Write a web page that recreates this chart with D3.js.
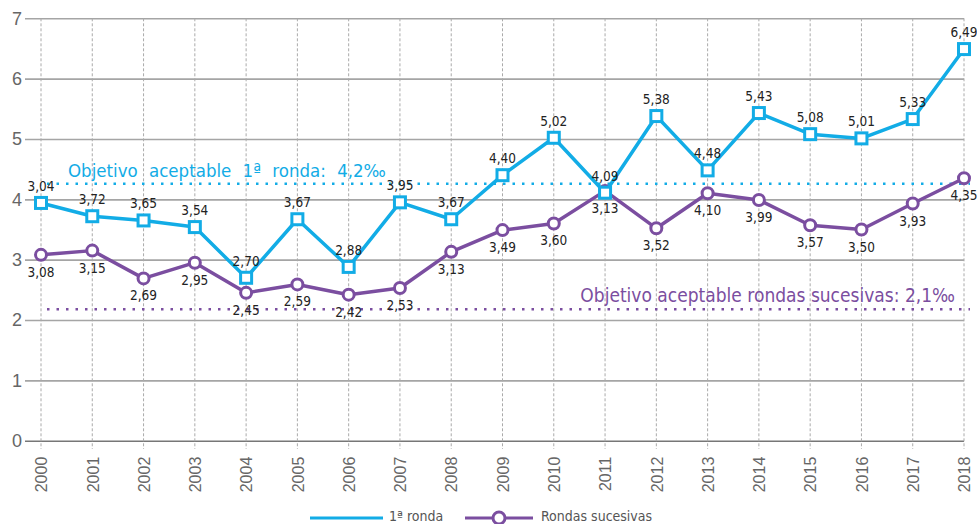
<!DOCTYPE html>
<html>
<head>
<meta charset="utf-8">
<script src="https://cdn.jsdelivr.net/npm/d3@7"></script>
<style>
  body { margin: 0; background: #fff; }
  svg { display: block; font-family: "DejaVu Sans Condensed", "DejaVu Sans", sans-serif; }
  .y.axis text { fill: #666; font-size: 18px; }
  .x.axis text { fill: #666; font-size: 16px; }
</style>
</head>
<body>
<div id="chart"></div>
<script>
const years = ["2000","2001","2002","2003","2004","2005","2006","2007","2008","2009",
               "2010","2011","2012","2013","2014","2015","2016","2017","2018"];
const primeraRonda = [3.94, 3.72, 3.65, 3.54, 2.70, 3.67, 2.88, 3.95, 3.67, 4.40,
                      5.02, 4.11, 5.38, 4.48, 5.43, 5.08, 5.01, 5.33, 6.49];
const primeraLabels = ["3,04","3,72","3,65","3,54","2,70","3,67","2,88","3,95","3,67","4,40",
                       "5,02","4,09","5,38","4,48","5,43","5,08","5,01","5,33","6,49"];
const sucesivas = [3.08, 3.15, 2.69, 2.95, 2.45, 2.59, 2.42, 2.53, 3.13, 3.49,
                   3.60, 4.14, 3.52, 4.10, 3.99, 3.57, 3.50, 3.93, 4.35];
const sucesivasLabels = ["3,08","3,15","2,69","2,95","2,45","2,59","2,42","2,53","3,13","3,49",
                         "3,60","3,13","3,52","4,10","3,99","3,57","3,50","3,93","4,35"];
const yTicks = [0, 1, 2, 3, 4, 5, 6, 7];
const objetivos = [
  { value: 4.26, text: "Objetivo aceptable 1ª ronda: 4,2‰", color: "#12ACE6" },
  { value: 2.18, text: "Objetivo aceptable rondas sucesivas: 2,1‰", color: "#7B4EA0" }
];

const cyan = "#12ACE6", purple = "#7B4EA0";
const width = 977, height = 524;

const svg = d3.select("#chart").append("svg")
    .attr("width", width)
    .attr("height", height);

const x = d3.scalePoint().domain(years).range([41, 964]);
const y = d3.scaleLinear().domain([0, 7]).range([440.7, 18.3]);

// horizontal grid + y labels
const yAxis = svg.append("g")
    .attr("class", "y axis")
    .attr("transform", "translate(964,0)")
    .call(d3.axisLeft(y).tickValues(yTicks).tickSize(939).tickPadding(3).tickFormat(d3.format("d")));
yAxis.select(".domain").remove();
yAxis.selectAll("line").attr("stroke", d => d === 0 ? "#777" : "#a5a5a5").attr("stroke-width", 1.6);

// vertical dashed grid
svg.append("g").selectAll("line")
    .data(years)
    .enter().append("line")
    .attr("x1", d => x(d)).attr("x2", d => x(d))
    .attr("y1", y(7)).attr("y2", 449)
    .attr("stroke", "#aaa")
    .attr("stroke-width", 1)
    .attr("stroke-dasharray", "3,2");

// x labels
const xAxis = svg.append("g")
    .attr("class", "x axis")
    .attr("transform", "translate(0," + y(0) + ")")
    .call(d3.axisBottom(x).tickSize(0));
xAxis.select(".domain").remove();
xAxis.selectAll("text")
    .attr("transform", "rotate(-90)")
    .attr("x", -16)
    .attr("y", 0)
    .attr("dy", "0.36em")
    .style("text-anchor", "end");

// target lines
objetivos.forEach((o, i) => {
    svg.append("line")
        .attr("x1", 47).attr("x2", 970)
        .attr("y1", y(o.value)).attr("y2", y(o.value))
        .attr("stroke", o.color)
        .attr("stroke-width", 2.5)
        .attr("stroke-dasharray", "2.5,7");
    svg.append("text")
        .attr("x", i === 0 ? 68 : 955)
        .attr("y", y(o.value) - 7)
        .attr("text-anchor", i === 0 ? "start" : "end")
        .attr("fill", o.color)
        .style("font-size", i === 0 ? "18.5px" : "19px")
        .style("word-spacing", i === 0 ? "6px" : "0px")
        .text(o.text);
});

const line = d3.line().x((d, i) => x(years[i])).y(d => y(d));

// rondas sucesivas
svg.append("path")
    .datum(sucesivas)
    .attr("fill", "none")
    .attr("stroke", purple)
    .attr("stroke-width", 3.5)
    .attr("stroke-linejoin", "round")
    .attr("d", line);
svg.selectAll(".dot")
    .data(sucesivas)
    .enter().append("circle")
    .attr("class", "dot")
    .attr("cx", (d, i) => x(years[i]))
    .attr("cy", d => y(d))
    .attr("r", 5.5)
    .attr("fill", "#fff")
    .attr("stroke", purple)
    .attr("stroke-width", 3);

// 1ª ronda
svg.append("path")
    .datum(primeraRonda)
    .attr("fill", "none")
    .attr("stroke", cyan)
    .attr("stroke-width", 3.5)
    .attr("stroke-linejoin", "round")
    .attr("d", line);
svg.selectAll(".sq")
    .data(primeraRonda)
    .enter().append("rect")
    .attr("class", "sq")
    .attr("x", (d, i) => x(years[i]) - 5.5)
    .attr("y", d => y(d) - 5.5)
    .attr("width", 11)
    .attr("height", 11)
    .attr("fill", "#fff")
    .attr("stroke", cyan)
    .attr("stroke-width", 3);

// value labels
svg.selectAll(".lab1")
    .data(primeraRonda)
    .enter().append("text")
    .attr("class", "lab1")
    .attr("x", (d, i) => x(years[i]))
    .attr("y", d => y(d) - 12)
    .attr("text-anchor", "middle")
    .attr("fill", "#222")
    .style("font-size", "13.5px")
    .text((d, i) => primeraLabels[i]);
svg.selectAll(".lab2")
    .data(sucesivas)
    .enter().append("text")
    .attr("class", "lab2")
    .attr("x", (d, i) => x(years[i]))
    .attr("y", d => y(d) + 22)
    .attr("text-anchor", "middle")
    .attr("fill", "#222")
    .style("font-size", "13.5px")
    .text((d, i) => sucesivasLabels[i]);

// legend
const legend = svg.append("g").attr("transform", "translate(0,518)");
legend.append("line").attr("x1", 310).attr("x2", 383).attr("y1", 0).attr("y2", 0)
    .attr("stroke", cyan).attr("stroke-width", 3);
legend.append("text").attr("x", 389).attr("y", 3).attr("fill", "#555")
    .style("font-size", "14px").text("1ª ronda");
legend.append("line").attr("x1", 465).attr("x2", 533).attr("y1", 0).attr("y2", 0)
    .attr("stroke", purple).attr("stroke-width", 3);
legend.append("circle").attr("cx", 499).attr("cy", 0).attr("r", 6)
    .attr("fill", "#fff").attr("stroke", purple).attr("stroke-width", 3);
legend.append("text").attr("x", 541).attr("y", 3).attr("fill", "#555")
    .style("font-size", "14px").text("Rondas sucesivas");
</script>
</body>
</html>
